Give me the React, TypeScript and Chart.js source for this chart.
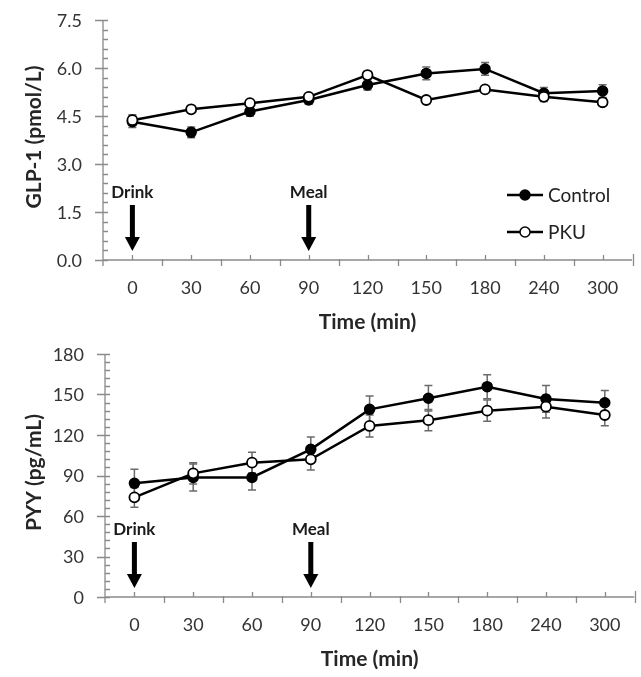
import React, { useEffect, useRef } from "react";
import { Chart, registerables } from "chart.js";

Chart.register(...registerables);

// ---------- data ----------
const timeLabels = ["0", "30", "60", "90", "120", "150", "180", "240", "300"];

const glpControl = [4.32, 3.99, 4.64, 5.0, 5.47, 5.83, 5.97, 5.21, 5.28];
const glpControlErr = [0.18, 0.17, 0.15, 0.13, 0.16, 0.2, 0.2, 0.18, 0.2];
const glpPku = [4.37, 4.71, 4.9, 5.1, 5.78, 5.0, 5.33, 5.1, 4.93];
const glpPkuErr = [0.17, 0.08, 0.08, 0.08, 0.08, 0.08, 0.08, 0.15, 0.08];

const pyyControl = [84.2, 88.6, 88.6, 109.4, 139, 147.2, 155.8, 146.7, 143.9];
const pyyControlErr = [10.4, 10, 9.4, 9.1, 9.9, 9.4, 8.9, 9.9, 9.1];
const pyyPku = [73.8, 91.6, 99.5, 102, 126.7, 131, 138, 141, 134.8];
const pyyPkuErr = [7.4, 7.9, 7.7, 7.9, 8.1, 7.9, 7.9, 8.4, 7.9];

const glpAxis = { max: 7.5, major: 1.5, minor: 0.3, decimals: 1 };
const pyyAxis = { max: 180, major: 30, minor: 6, decimals: 0 };

const seriesNames = ["Control", "PKU"];
const eventMarks = [
  { label: "Drink", at: "0" },
  { label: "Meal", at: "90" },
];

const FONT = "Lato, 'Open Sans', sans-serif";
const AXIS_COLOR = "#8a8a8a";
const TEXT_COLOR = "#333333";

type AxisCfg = { max: number; major: number; minor: number; decimals: number };

function makeDecor(cfg: {
  axis: AxisCfg;
  errors: number[][];
  legend: boolean;
  yTitle: string;
}) {
  return {
    id: "decor",
    beforeDatasetsDraw(chart: any) {
      const { ctx, chartArea } = chart;
      const xs = chart.scales.x;
      const ys = chart.scales.y;
      const { left, right, top, bottom } = chartArea;
      ctx.save();
      ctx.strokeStyle = AXIS_COLOR;
      ctx.lineWidth = 1.3;
      ctx.beginPath();
      ctx.moveTo(left, top);
      ctx.lineTo(left, bottom + 6);
      ctx.moveTo(left, bottom);
      ctx.lineTo(right, bottom);
      // y ticks
      const nMinor = Math.round(cfg.axis.max / cfg.axis.minor);
      const per = Math.round(cfg.axis.major / cfg.axis.minor);
      for (let k = 0; k <= nMinor; k++) {
        const py = Math.round(ys.getPixelForValue(k * cfg.axis.minor)) + 0.5;
        const major = k % per === 0;
        ctx.moveTo(major ? left - 8 : left, py);
        ctx.lineTo(left + 5, py);
      }
      // x ticks
      const n = timeLabels.length;
      const w = (right - left) / n;
      for (let i = 0; i < n; i++) {
        const cx = Math.round(xs.getPixelForValue(i)) + 0.5;
        ctx.moveTo(cx, bottom - 5);
        ctx.lineTo(cx, bottom);
        const bx = Math.round(cx + w / 2) + 0.5;
        ctx.moveTo(bx, i === n - 1 ? bottom - 6 : bottom - 1);
        ctx.lineTo(bx, bottom + 6);
      }
      ctx.stroke();

      // y tick labels
      ctx.fillStyle = TEXT_COLOR;
      ctx.font = `18px ${FONT}`;
      ctx.textAlign = "right";
      ctx.textBaseline = "middle";
      const nMajor = Math.round(cfg.axis.max / cfg.axis.major);
      for (let k = 0; k <= nMajor; k++) {
        const v = k * cfg.axis.major;
        ctx.fillText(v.toFixed(cfg.axis.decimals), left - 21, ys.getPixelForValue(v) + 1);
      }

      // error bars
      ctx.strokeStyle = "#6a6a6a";
      ctx.lineWidth = 1.5;
      chart.data.datasets.forEach((ds: any, di: number) => {
        const meta = chart.getDatasetMeta(di);
        const errs = cfg.errors[di];
        meta.data.forEach((pt: any, i: number) => {
          const v = ds.data[i];
          const e = errs[i];
          const x = pt.x;
          const yt = ys.getPixelForValue(v + e);
          const yb = ys.getPixelForValue(v - e);
          ctx.beginPath();
          ctx.moveTo(x, yt);
          ctx.lineTo(x, yb);
          ctx.moveTo(x - 4, yt);
          ctx.lineTo(x + 4, yt);
          ctx.moveTo(x - 4, yb);
          ctx.lineTo(x + 4, yb);
          ctx.stroke();
        });
      });
      ctx.restore();
    },
    afterDraw(chart: any) {
      const { ctx, chartArea } = chart;
      const xs = chart.scales.x;
      const { right, top, bottom } = chartArea;
      ctx.save();
      // event arrows
      eventMarks.forEach((ev) => {
        const idx = timeLabels.indexOf(ev.at);
        const ax = xs.getPixelForValue(idx);
        ctx.fillStyle = "#000";
        ctx.fillRect(ax - 2.5, bottom - 55, 5, 33);
        ctx.beginPath();
        ctx.moveTo(ax - 7.5, bottom - 23);
        ctx.lineTo(ax + 7.5, bottom - 23);
        ctx.lineTo(ax, bottom - 9);
        ctx.closePath();
        ctx.fill();
        ctx.font = `bold 17px ${FONT}`;
        ctx.textAlign = "center";
        ctx.textBaseline = "middle";
        ctx.fillStyle = "#1a1a1a";
        ctx.fillText(ev.label, ax, bottom - 67);
      });
      // legend
      if (cfg.legend) {
        const rows = [bottom - 65, bottom - 28];
        seriesNames.forEach((name, i) => {
          const ly = rows[i];
          ctx.strokeStyle = "#000";
          ctx.lineWidth = 2.5;
          ctx.beginPath();
          ctx.moveTo(right - 125, ly);
          ctx.lineTo(right - 89, ly);
          ctx.stroke();
          ctx.beginPath();
          ctx.arc(right - 107, ly, 5, 0, Math.PI * 2);
          ctx.fillStyle = i === 0 ? "#000" : "#fff";
          ctx.fill();
          ctx.lineWidth = 1.5;
          ctx.stroke();
          ctx.fillStyle = "#222";
          ctx.font = `19px ${FONT}`;
          ctx.textAlign = "left";
          ctx.textBaseline = "middle";
          ctx.fillText(name, right - 84, ly + 1);
        });
      }
      // y title
      ctx.translate(34, (top + bottom) / 2 - 3);
      ctx.rotate(-Math.PI / 2);
      ctx.font = `bold 21px ${FONT}`;
      ctx.fillStyle = "#262626";
      ctx.textAlign = "center";
      ctx.textBaseline = "middle";
      ctx.fillText(cfg.yTitle, 0, 0);
      ctx.restore();
    },
  };
}

function buildChart(
  canvas: HTMLCanvasElement,
  p: {
    control: number[];
    pku: number[];
    controlErr: number[];
    pkuErr: number[];
    axis: AxisCfg;
    yTitle: string;
    legend: boolean;
    padTop: number;
    padRight: number;
    yWidth: number;
    xHeight: number;
  }
) {
  return new Chart(canvas, {
    type: "line",
    data: {
      labels: timeLabels,
      datasets: [
        {
          label: seriesNames[0],
          data: p.control,
          borderColor: "#000",
          backgroundColor: "#000",
          borderWidth: 2.5,
          pointRadius: 5,
          pointBorderWidth: 1.5,
          pointBackgroundColor: "#000",
          pointBorderColor: "#000",
          tension: 0,
          order: 1,
        },
        {
          label: seriesNames[1],
          data: p.pku,
          borderColor: "#000",
          backgroundColor: "#fff",
          borderWidth: 2.5,
          pointRadius: 5,
          pointBorderWidth: 1.8,
          pointBackgroundColor: "#fff",
          pointBorderColor: "#000",
          tension: 0,
          order: 0,
        },
      ],
    },
    options: {
      animation: false,
      responsive: false,
      devicePixelRatio: 1,
      layout: { padding: { top: p.padTop, right: p.padRight, left: 0, bottom: 0 } },
      plugins: {
        legend: { display: false },
        tooltip: { enabled: false },
      },
      scales: {
        x: {
          type: "category",
          offset: true,
          grid: { display: false, drawTicks: false },
          border: { display: false },
          ticks: {
            padding: 17,
            color: TEXT_COLOR,
            font: { family: FONT, size: 18 },
            maxRotation: 0,
            autoSkip: false,
          },
          title: {
            display: true,
            text: "Time (min)",
            color: "#262626",
            font: { family: FONT, size: 21, weight: "bold" },
            padding: { top: 0, bottom: 5 },
          },
          afterFit: (s: any) => {
            s.height = p.xHeight;
          },
        },
        y: {
          min: 0,
          max: p.axis.max,
          grid: { display: false, drawTicks: false },
          border: { display: false },
          ticks: { display: false, stepSize: p.axis.major },
          afterFit: (s: any) => {
            s.width = p.yWidth;
          },
        },
      },
    },
    plugins: [
      makeDecor({
        axis: p.axis,
        errors: [p.controlErr, p.pkuErr],
        legend: p.legend,
        yTitle: p.yTitle,
      }),
    ],
  } as any);
}

export default function App() {
  const topRef = useRef<HTMLCanvasElement>(null);
  const botRef = useRef<HTMLCanvasElement>(null);

  useEffect(() => {
    const c1 = buildChart(topRef.current!, {
      control: glpControl,
      pku: glpPku,
      controlErr: glpControlErr,
      pkuErr: glpPkuErr,
      axis: glpAxis,
      yTitle: "GLP-1 (pmol/L)",
      legend: true,
      padTop: 20,
      padRight: 9,
      yWidth: 103,
      xHeight: 80,
    });
    const c2 = buildChart(botRef.current!, {
      control: pyyControl,
      pku: pyyPku,
      controlErr: pyyControlErr,
      pkuErr: pyyPkuErr,
      axis: pyyAxis,
      yTitle: "PYY (pg/mL)",
      legend: false,
      padTop: 14,
      padRight: 6,
      yWidth: 105,
      xHeight: 80,
    });
    return () => {
      c1.destroy();
      c2.destroy();
    };
  }, []);

  return (
    <div
      style={{
        position: "absolute",
        left: 0,
        top: 0,
        width: 641,
        height: 677,
        background: "#fff",
        overflow: "hidden",
      }}
    >
      <canvas
        ref={topRef}
        width={641}
        height={340}
        style={{ position: "absolute", left: 0, top: 0, width: 641, height: 340 }}
      />
      <canvas
        ref={botRef}
        width={641}
        height={337}
        style={{ position: "absolute", left: 0, top: 340, width: 641, height: 337 }}
      />
    </div>
  );
}
